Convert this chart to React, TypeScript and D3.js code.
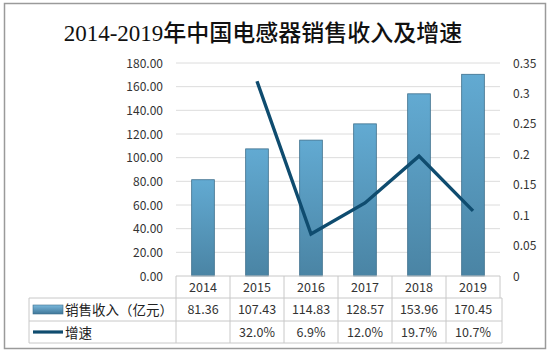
import { useEffect, useRef } from "react";
import * as d3 from "d3";

const years = ["2014", "2015", "2016", "2017", "2018", "2019"];
const revenue = [81.36, 107.43, 114.83, 128.57, 153.96, 170.45];
const growth: (number | null)[] = [null, 0.32, 0.069, 0.12, 0.197, 0.107];
const growthLabels = ["", "32.0%", "6.9%", "12.0%", "19.7%", "10.7%"];
const leftTicks = [0, 20, 40, 60, 80, 100, 120, 140, 160, 180];
const rightTicks = [0, 0.05, 0.1, 0.15, 0.2, 0.25, 0.3, 0.35];

const FONT = "'Noto Sans CJK SC', 'Noto Sans', sans-serif";

export default function App() {
  const ref = useRef<SVGSVGElement>(null);

  useEffect(() => {
    const svg = d3.select(ref.current);
    svg.selectAll("*").remove();
    const W = 550, H = 354;
    const m = { left: 176, right: 50, top: 63, bottom: 78 };
    const iW = W - m.left - m.right;
    const iH = H - m.top - m.bottom;

    // outer frame
    svg.append("rect").attr("x", 4.5).attr("y", 3.5).attr("width", 541).attr("height", 345)
      .attr("fill", "#fff").attr("stroke", "#9a9a9a").attr("stroke-width", 1.5);

    svg.append("text").attr("x", 263).attr("y", 41).attr("text-anchor", "middle")
      .attr("font-family", "'Liberation Serif', 'Noto Sans CJK SC', serif").attr("font-size", 23).attr("font-weight", 500)
      .attr("fill", "#111").text("2014-2019年中国电感器销售收入及增速");

    const defs = svg.append("defs");
    const grad = defs.append("linearGradient").attr("id", "barGrad")
      .attr("x1", "0").attr("x2", "0").attr("y1", "0").attr("y2", "1");
    grad.append("stop").attr("offset", "0%").attr("stop-color", "#62aad2");
    grad.append("stop").attr("offset", "100%").attr("stop-color", "#4a84a4");
    const lgrad = defs.append("linearGradient").attr("id", "legGrad")
      .attr("x1", "0").attr("x2", "0").attr("y1", "0").attr("y2", "1");
    lgrad.append("stop").attr("offset", "0%").attr("stop-color", "#7ab8dc");
    lgrad.append("stop").attr("offset", "100%").attr("stop-color", "#3f7799");

    const g = svg.append("g").attr("transform", `translate(${m.left},${m.top})`);

    const x = d3.scaleBand().domain(years).range([0, iW]);
    const y = d3.scaleLinear().domain([0, 180]).range([iH, 0]);
    const y2 = d3.scaleLinear().domain([0, 0.35]).range([iH, 0]);

    // grid
    g.selectAll(".grid").data(leftTicks.slice(1)).join("line")
      .attr("x1", 0).attr("x2", iW)
      .attr("y1", d => y(d)).attr("y2", d => y(d))
      .attr("stroke", "#dcdcdc").attr("stroke-width", 1);

    // left axis labels
    g.selectAll(".lt").data(leftTicks).join("text")
      .attr("x", -13).attr("y", d => y(d) + 4.5).attr("text-anchor", "end")
      .attr("font-family", FONT).attr("font-size", 12).attr("fill", "#333")
      .text(d => d.toFixed(2));

    // right axis labels
    g.selectAll(".rt").data(rightTicks).join("text")
      .attr("x", iW + 13).attr("y", d => y2(d) + 4.5).attr("text-anchor", "start")
      .attr("font-family", FONT).attr("font-size", 12).attr("fill", "#333")
      .text(d => d3.format("~g")(d));

    // bars
    const bw = x.bandwidth() * 0.42;
    g.selectAll(".bar").data(revenue).join("rect")
      .attr("x", (d, i) => x(years[i])! + (x.bandwidth() - bw) / 2)
      .attr("y", d => y(d)).attr("width", bw).attr("height", d => iH - y(d))
      .attr("fill", "url(#barGrad)").attr("stroke", "#3d6f8c").attr("stroke-width", 0.8);

    // line
    const pts = growth.map((v, i) => ({ v, i })).filter(p => p.v !== null);
    g.append("path").datum(pts)
      .attr("fill", "none").attr("stroke", "#0f4c6f").attr("stroke-width", 3.4)
      .attr("stroke-linejoin", "miter")
      .attr("d", d3.line<{ v: number | null; i: number }>()
        .x(p => x(years[p.i])! + x.bandwidth() / 2)
        .y(p => y2(p.v as number)));

    // data table
    const rowH = [22, 23, 22];
    const tLeft = 29 - m.left;
    const r0 = iH, r1 = iH + rowH[0], r2 = r1 + rowH[1], r3 = r2 + rowH[2];
    const tc = "#c8c8c8";
    g.append("line").attr("x1", 0).attr("x2", iW).attr("y1", r0).attr("y2", r0).attr("stroke", tc);
    [r1, r2, r3].forEach(ry => {
      g.append("line").attr("x1", tLeft).attr("x2", iW + 2).attr("y1", ry).attr("y2", ry).attr("stroke", tc);
    });
    g.append("line").attr("x1", tLeft).attr("x2", tLeft).attr("y1", r1).attr("y2", r3).attr("stroke", tc);
    g.append("line").attr("x1", iW + 2).attr("x2", iW + 2).attr("y1", r1).attr("y2", r3).attr("stroke", tc);
    years.forEach(yr => {
      const xl = x(yr)!;
      g.append("line").attr("x1", xl).attr("x2", xl).attr("y1", r0).attr("y2", r3).attr("stroke", tc);
    });
    g.append("line").attr("x1", iW).attr("x2", iW).attr("y1", r0).attr("y2", r1).attr("stroke", tc);

    const cx = (i: number) => x(years[i])! + x.bandwidth() / 2;
    g.selectAll(".yr").data(years).join("text")
      .attr("x", (d, i) => cx(i)).attr("y", r0 + 16).attr("text-anchor", "middle")
      .attr("font-family", FONT).attr("font-size", 12.5).attr("fill", "#333").text(d => d);
    g.selectAll(".rv").data(revenue).join("text")
      .attr("x", (d, i) => cx(i)).attr("y", r1 + 16).attr("text-anchor", "middle")
      .attr("font-family", FONT).attr("font-size", 12.5).attr("fill", "#333").text(d => d.toFixed(2));
    g.selectAll(".gr").data(growthLabels).join("text")
      .attr("x", (d, i) => cx(i)).attr("y", r2 + 16).attr("text-anchor", "middle")
      .attr("font-family", FONT).attr("font-size", 12.5).attr("fill", "#333").text(d => d);

    // legend keys
    g.append("rect").attr("x", tLeft + 4).attr("y", r1 + 7).attr("width", 30).attr("height", 9)
      .attr("fill", "url(#legGrad)").attr("stroke", "#3d6f8c").attr("stroke-width", 0.6);
    g.append("text").attr("x", tLeft + 36).attr("y", r1 + 16.5)
      .attr("font-family", FONT).attr("font-size", 13.5).attr("fill", "#222").text("销售收入（亿元）");
    g.append("line").attr("x1", tLeft + 4).attr("x2", tLeft + 34).attr("y1", r2 + 11).attr("y2", r2 + 11)
      .attr("stroke", "#0f4c6f").attr("stroke-width", 3.2);
    g.append("text").attr("x", tLeft + 36).attr("y", r2 + 16.5)
      .attr("font-family", FONT).attr("font-size", 13.5).attr("fill", "#222").text("增速");
  }, []);

  return (
    <svg ref={ref} width={550} height={354}
      style={{ position: "absolute", left: 0, top: 0, display: "block" }} />
  );
}
